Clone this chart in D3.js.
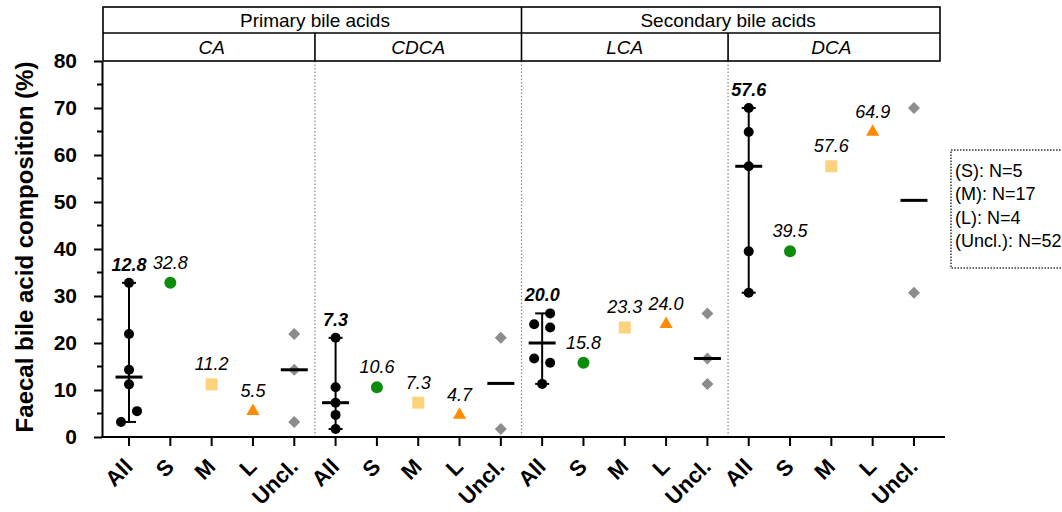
<!DOCTYPE html>
<html>
<head>
<meta charset="utf-8">
<script src="https://cdn.jsdelivr.net/npm/d3@7"></script>
<style>
    body { margin: 0; background: #fff; }
    svg { display: block; font-family: Arial, 'Liberation Sans', Helvetica, sans-serif; }
</style>
</head>
<body>
<svg id="chart" width="1062" height="512"></svg>
<script>
// bile acids (panels) and the groups inside each panel
const acids = ['CA', 'CDCA', 'LCA', 'DCA'];
const acidClasses = ['Primary bile acids', 'Secondary bile acids'];
const acidClassOf = ['Primary bile acids', 'Primary bile acids', 'Secondary bile acids', 'Secondary bile acids'];
const groups = ['All', 'S', 'M', 'L', 'Uncl.'];

// one value per acid for S, M and L; several for unclassified
const sValues = [32.8, 10.6, 15.8, 39.5];
const mValues = [11.2, 7.3, 23.3, 57.6];
const lValues = [5.5, 4.7, 24.0, 64.9];
const unclValues = [[21.9, 14.3, 3.2], [21.1, 1.7], [26.3, 16.7, 11.3], [70.0, 30.7]];

const yTicks = [0, 10, 20, 30, 40, 50, 60, 70, 80];
const legendLabels = ['(S): N=5', '(M): N=17', '(L): N=4', '(Uncl.): N=52'];

(function () {
    let svg = d3.select('#chart'),
        plot = { left: 103, right: 940, top: 61, bottom: 437 },
        fmt = d3.format('.1f');

    let keys = [];
    acids.forEach(a => groups.forEach(g => keys.push(a + '|' + g)));

    let x = d3.scalePoint().domain(keys).range([plot.left, plot.right]).padding(0.63),
        y = d3.scaleLinear().domain([0, 80]).range([plot.bottom, plot.top]),
        step = x.step();

    // panel separators (dotted)
    for (let i = 1; i < acids.length; i++) {
        let sx = x(acids[i] + '|All') - step / 2;
        svg.append('line')
            .attr('x1', sx).attr('x2', sx)
            .attr('y1', plot.top).attr('y2', plot.bottom)
            .attr('stroke', '#888').attr('stroke-width', 1.2)
            .attr('stroke-dasharray', '1.5,2');
    }

    // header boxes
    let hdr = svg.append('g').attr('fill', 'none').attr('stroke', '#000').attr('stroke-width', 1.6);
    let rowTop = 7, rowMid = 33;
    hdr.append('rect').attr('x', plot.left).attr('y', rowTop)
        .attr('width', plot.right - plot.left).attr('height', plot.top - rowTop);
    hdr.append('line').attr('x1', plot.left).attr('x2', plot.right).attr('y1', rowMid).attr('y2', rowMid);

    acidClasses.forEach(function (c, ci) {
        let idx = acids.map((a, i) => i).filter(i => acidClassOf[i] === c);
        let x0 = Math.max(x(acids[idx[0]] + '|All') - step / 2, plot.left),
            x1 = Math.min(x(acids[idx[idx.length - 1]] + '|Uncl.') + step / 2, plot.right);
        if (ci < acidClasses.length - 1) hdr.append('line').attr('x1', x1).attr('x2', x1).attr('y1', rowTop).attr('y2', rowMid);
        svg.append('text').attr('x', (x0 + x1) / 2).attr('y', 27)
            .attr('text-anchor', 'middle').style('font-size', '19px').text(c);
    });
    acids.forEach(function (a, i) {
        let x0 = Math.max(x(a + '|All') - step / 2, plot.left),
            x1 = Math.min(x(a + '|Uncl.') + step / 2, plot.right);
        if (i < acids.length - 1) hdr.append('line').attr('x1', x1).attr('x2', x1).attr('y1', rowMid).attr('y2', plot.top);
        svg.append('text').attr('x', (x0 + x1) / 2).attr('y', 54)
            .attr('text-anchor', 'middle').style('font-size', '19px').style('font-style', 'italic').text(a);
    });

    // y axis
    let yAxis = svg.append('g')
        .attr('transform', `translate(${plot.left - 1},0)`)
        .call(d3.axisLeft(y).tickValues(yTicks).tickSize(8).tickSizeOuter(0).tickPadding(17));
    yAxis.select('.domain').attr('stroke-width', 2);
    yAxis.selectAll('.tick line').attr('stroke-width', 2);
    yAxis.selectAll('.tick text').style('font-size', '21px').style('font-weight', 'bold').attr('fill', '#000');
    yAxis.selectAll('.minor')
        .data(yTicks.slice(0, -1).map(v => v + 5))
        .enter().append('line')
        .attr('x1', -5).attr('x2', 0)
        .attr('y1', d => y(d)).attr('y2', d => y(d))
        .attr('stroke', '#000').attr('stroke-width', 2);

    svg.append('text')
        .attr('transform', `translate(33,${(plot.top + plot.bottom) / 2 - 2}) rotate(-90)`)
        .attr('text-anchor', 'middle')
        .style('font-size', '24px').style('font-weight', 'bold')
        .text('Faecal bile acid composition (%)');

    // x axis
    let xAxis = svg.append('g').attr('transform', `translate(0,${plot.bottom})`);
    xAxis.append('line').attr('x1', plot.left - 2).attr('x2', plot.right + 5)
        .attr('stroke', '#000').attr('stroke-width', 2);
    xAxis.selectAll('.tick').data(keys).enter().append('line')
        .attr('x1', d => x(d)).attr('x2', d => x(d))
        .attr('y1', 0).attr('y2', 9)
        .attr('stroke', '#000').attr('stroke-width', 2);
    xAxis.selectAll('.lab').data(keys).enter().append('text')
        .attr('transform', d => `translate(${x(d) + 5},31) rotate(-45)`)
        .attr('text-anchor', 'end')
        .style('font-size', '22px').style('font-weight', 'bold')
        .text(d => d.split('|')[1]);

    let labelStyle = sel => sel.attr('text-anchor', 'middle').style('font-size', '18px').style('font-style', 'italic');

    acids.forEach(function (a, i) {
        let all = [sValues[i], mValues[i], lValues[i]].concat(unclValues[i]),
            med = d3.median(all),
            xa = x(a + '|All');

        // range bar with caps
        let g = svg.append('g').attr('stroke', '#000');
        g.append('line').attr('x1', xa).attr('x2', xa)
            .attr('y1', y(d3.max(all))).attr('y2', y(d3.min(all))).attr('stroke-width', 2);
        [d3.max(all), d3.min(all)].forEach(v => g.append('line')
            .attr('x1', xa - 7).attr('x2', xa + 7).attr('y1', y(v)).attr('y2', y(v)).attr('stroke-width', 2));
        g.append('line').attr('x1', xa - 13.5).attr('x2', xa + 13.5)
            .attr('y1', y(med)).attr('y2', y(med)).attr('stroke-width', 3);

        // dots, spread sideways when they overlap
        let sorted = all.slice().sort((p, q) => q - p),
            ys = sorted.map(v => y(v)),
            k = 0;
        sorted.forEach(function (v, j) {
            let close = (j > 0 && ys[j] - ys[j - 1] < 11.5) || (j < sorted.length - 1 && ys[j + 1] - ys[j] < 11.5);
            let off = close ? (k++ % 2 === 0 ? 8 : -8) : 0;
            svg.append('circle').attr('cx', xa + off).attr('cy', ys[j]).attr('r', 5).attr('fill', '#000');
        });

        svg.append('text').call(labelStyle).style('font-weight', 'bold')
            .attr('x', xa).attr('y', y(d3.max(all)) - 12)
            .text(fmt(med + 1e-9));

        // S, M, L markers
        let xs = x(a + '|S'), xm = x(a + '|M'), xl = x(a + '|L'), xu = x(a + '|Uncl.');
        svg.append('circle').attr('cx', xs).attr('cy', y(sValues[i])).attr('r', 6).attr('fill', '#0b8c0b');
        svg.append('rect').attr('x', xm - 6).attr('y', y(mValues[i]) - 6)
            .attr('width', 12).attr('height', 12).attr('fill', '#fdd27c');
        svg.append('path')
            .attr('d', d3.symbol(d3.symbolTriangle, 75)())
            .attr('transform', `translate(${xl},${y(lValues[i])})`)
            .attr('fill', '#ff8c00');
        [[xs, sValues[i]], [xm, mValues[i]], [xl, lValues[i]]].forEach(p =>
            svg.append('text').call(labelStyle).attr('x', p[0]).attr('y', y(p[1]) - 14).text(fmt(p[1])));

        // unclassified
        let um = d3.median(unclValues[i]);
        unclValues[i].forEach(v => svg.append('path')
            .attr('d', 'M0,-6L6,0L0,6L-6,0Z')
            .attr('transform', `translate(${xu},${y(v)})`)
            .attr('fill', '#8c8c8c'));
        svg.append('line').attr('x1', xu - 13.5).attr('x2', xu + 13.5)
            .attr('y1', y(um)).attr('y2', y(um)).attr('stroke', '#000').attr('stroke-width', 3);
    });

    // legend box
    let leg = svg.append('g').attr('transform', 'translate(951,150)');
    leg.append('rect').attr('width', 140).attr('height', 118)
        .attr('fill', 'none').attr('stroke', '#333').attr('stroke-width', 1.5)
        .attr('stroke-dasharray', '1.5,1.5');
    leg.selectAll('text').data(legendLabels).enter().append('text')
        .attr('x', 4).attr('y', (d, i) => 27 + i * 23.3)
        .style('font-size', '18px')
        .text(d => d);
}());
</script>
</body>
</html>
